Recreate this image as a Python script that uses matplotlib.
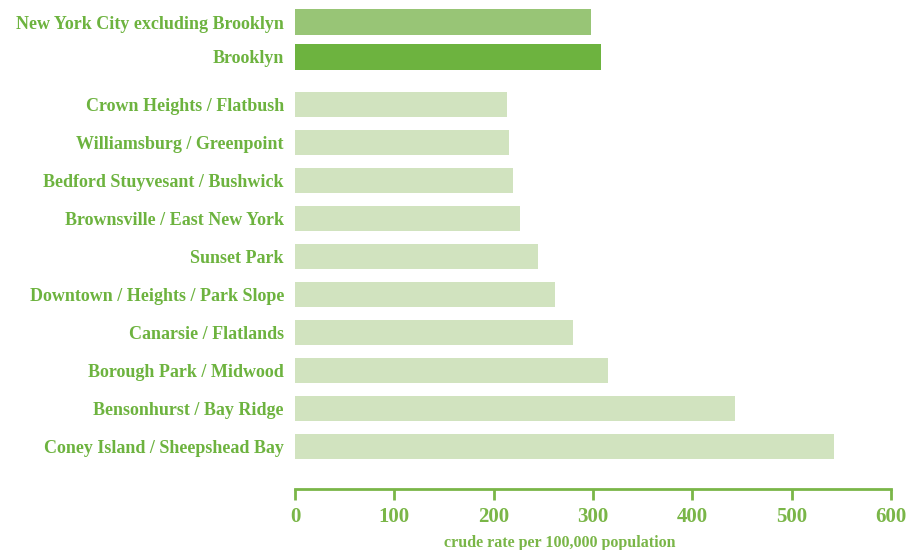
import numpy as np
import matplotlib
matplotlib.use('Agg')
import matplotlib.pyplot as plt

labels = ['New York City excluding Brooklyn', 'Brooklyn',
          'Crown Heights / Flatbush', 'Williamsburg / Greenpoint',
          'Bedford Stuyvesant / Bushwick', 'Brownsville / East New York',
          'Sunset Park', 'Downtown / Heights / Park Slope',
          'Canarsie / Flatlands', 'Borough Park / Midwood',
          'Bensonhurst / Bay Ridge', 'Coney Island / Sheepshead Bay']
values = [298, 308, 213, 215, 219, 227, 245, 262, 280, 315, 443, 543]
colors = ['#98c576', '#6db33f'] + ['#d1e3bf'] * 10

green = '#6db33f'
axis_green = '#7ab648'

# row positions (top to bottom), extra gap after Brooklyn
ypos = [11.16, 10.24] + list(np.arange(9, -1, -1))

plt.rcParams['font.family'] = ['Liberation Serif', 'DejaVu Serif']

fig = plt.figure(figsize=(9.15, 5.5), dpi=100)
ax = fig.add_axes([295 / 915, 61 / 550, 596 / 915, 489 / 550])

ax.barh(ypos, values, height=0.66, color=colors, left=0)

ax.set_xlim(0, 600)
ax.set_ylim(-1.13, 11.74)

ax.set_yticks(ypos)
ax.set_yticklabels(labels)
for t, lab in zip(ax.get_yticklabels(), labels):
    t.set_color(green)
    t.set_fontsize(13)
    t.set_fontweight('bold')
ax.tick_params(axis='y', length=0, pad=8)

ax.set_xticks(np.arange(0, 601, 100))
ax.tick_params(axis='x', direction='out', length=8, width=2, color=axis_green,
               labelcolor=axis_green, labelsize=15, pad=5)
for t in ax.get_xticklabels():
    t.set_fontweight('bold')

for s in ['top', 'right', 'left']:
    ax.spines[s].set_visible(False)
ax.spines['bottom'].set_color(axis_green)
ax.spines['bottom'].set_linewidth(2)

ax.set_xlabel('crude rate per 100,000 population', color=axis_green,
              fontsize=11.5, fontweight='bold', labelpad=6, x=0.445)

fig.savefig('out.png', dpi=100)
